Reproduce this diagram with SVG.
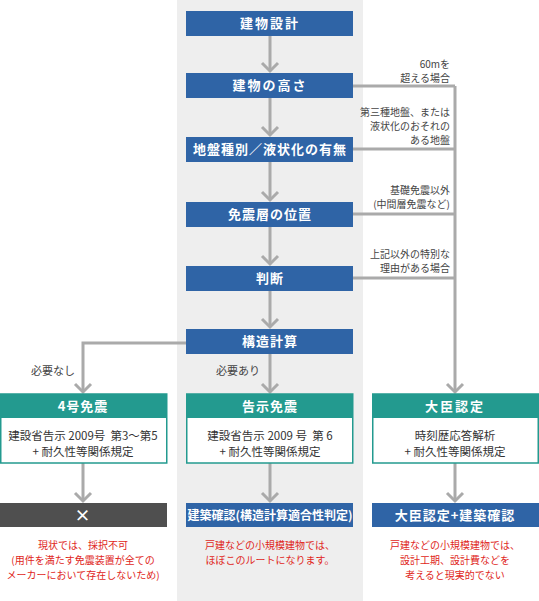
<svg xmlns="http://www.w3.org/2000/svg" width="539" height="601" viewBox="0 0 539 601">
<style>
text{font-family:"Noto Sans CJK JP","Noto Sans",sans-serif}
.blue{fill:#2f64a6}
.teal{fill:#239a8f}
.hd{fill:#fff;font-size:13px;font-weight:bold;text-anchor:middle;letter-spacing:1px}
.body{fill:#fff;stroke:#239a8f;stroke-width:1.5}
.bt{fill:#333;font-size:11.5px;text-anchor:middle}
.lbl{fill:#444;font-size:10px;text-anchor:end}
.lbl2{fill:#444;font-size:11px;text-anchor:middle}
.red{fill:#e0261b;font-size:10px;text-anchor:middle}
.ln{fill:none;stroke:#aaa;stroke-width:3}
.ah{fill:none;stroke:#aaa;stroke-width:3;stroke-linejoin:miter}
</style>
<rect x="177" y="0" width="186" height="601" fill="#eeeeee"/>
<g id="connectors">
<path class="ln" d="M270 36V71M270 98V135M270 162V200M270 227V264M270 291V327M270 354V392"/>
<path class="ln" d="M353 86H455M353 149H455M353 214H455M353 278H455M455 86V392"/>
<path class="ln" d="M186 343H83V392"/>
<path class="ln" d="M83 463V501M270 463V501M455 463V501"/>
<path class="ah" d="M262 63L270 71L278 63M262 127L270 135L278 127M262 192L270 200L278 192M262 256L270 264L278 256M262 319L270 327L278 319M262 384L270 392L278 384M75 384L83 392L91 384M447 384L455 392L463 384M75 493L83 501L91 493M262 493L270 501L278 493M447 493L455 501L463 493"/>
</g>
<g id="n1"><rect class="blue" x="186" y="11" width="167" height="25"/><text class="hd" x="270" y="28" style="letter-spacing:2px">建物設計</text></g>
<g id="n2"><rect class="blue" x="186" y="73" width="167" height="25"/><text class="hd" x="270" y="90" style="letter-spacing:2px">建物の高さ</text></g>
<g id="n3"><rect class="blue" x="186" y="137" width="167" height="25"/><text class="hd" x="270" y="154">地盤種別／液状化の有無</text></g>
<g id="n4"><rect class="blue" x="186" y="202" width="167" height="25"/><text class="hd" x="270" y="219">免震層の位置</text></g>
<g id="n5"><rect class="blue" x="186" y="266" width="167" height="25"/><text class="hd" x="270" y="283">判断</text></g>
<g id="n6"><rect class="blue" x="186" y="329" width="167" height="25"/><text class="hd" x="270" y="346">構造計算</text></g>
<g id="lbls">
<text class="lbl" x="450" y="68">60mを</text>
<text class="lbl" x="450" y="82">超える場合</text>
<text class="lbl" x="450" y="116">第三種地盤、または</text>
<text class="lbl" x="450" y="130">液状化のおそれの</text>
<text class="lbl" x="450" y="144">ある地盤</text>
<text class="lbl" x="450" y="194">基礎免震以外</text>
<text class="lbl" x="450" y="208">(中間層免震など)</text>
<text class="lbl" x="450" y="258">上記以外の特別な</text>
<text class="lbl" x="450" y="272">理由がある場合</text>
<text class="lbl2" x="53" y="375">必要なし</text>
<text class="lbl2" x="238" y="375">必要あり</text>
</g>
<g id="n7"><rect class="body" x="0.75" y="394" width="166" height="69"/><rect class="teal" x="0" y="394" width="167" height="24"/><text class="hd" x="83" y="411">4号免震</text><text class="bt" x="83" y="440">建設省告示 2009号&#160;&#160;第3～第5</text><text class="bt" x="83" y="456">+ 耐久性等関係規定</text></g>
<g id="n8"><rect class="body" x="186.75" y="394" width="166" height="69"/><rect class="teal" x="186" y="394" width="167" height="24"/><text class="hd" x="270" y="411">告示免震</text><text class="bt" x="270" y="440">建設省告示 2009 号&#160;&#160;第 6</text><text class="bt" x="270" y="456">+ 耐久性等関係規定</text></g>
<g id="n9"><rect class="body" x="372.75" y="394" width="165.5" height="69"/><rect class="teal" x="372" y="394" width="167" height="24"/><text class="hd" x="455" y="411" style="letter-spacing:2px">大臣認定</text><text class="bt" x="455" y="440">時刻歴応答解析</text><text class="bt" x="455" y="456">+ 耐久性等関係規定</text></g>
<g id="n10"><rect x="0" y="503" width="167" height="24" fill="#4f4f4f"/><text class="hd" x="83" y="521" style="font-size:16px">×</text>
<text class="red" x="83" y="549">現状では、採択不可</text><text class="red" x="83" y="564">(用件を満たす免震装置が全ての</text><text class="red" x="83" y="579">メーカーにおいて存在しないため)</text></g>
<g id="n11"><rect class="blue" x="186" y="503" width="167" height="24"/><text class="hd" x="270" y="520" style="font-size:12px;letter-spacing:0">建築確認(構造計算適合性判定)</text>
<text class="red" x="270" y="549">戸建などの小規模建物では、</text><text class="red" x="270" y="564">ほぼこのルートになります。</text></g>
<g id="n12"><rect class="blue" x="372" y="503" width="167" height="24"/><text class="hd" x="455" y="520">大臣認定+建築確認</text>
<text class="red" x="455" y="549">戸建などの小規模建物では、</text><text class="red" x="455" y="564">設計工期、設計費などを</text><text class="red" x="455" y="579">考えると現実的でない</text></g>
</svg>
